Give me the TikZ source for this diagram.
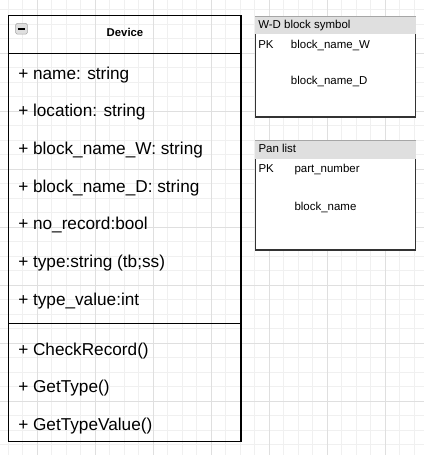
\documentclass[tikz,border=0pt]{standalone}
\usepackage{fontspec}
\setmainfont{Liberation Sans}

\begin{document}
\begin{tikzpicture}[x=0.75pt,y=-0.75pt,
    minorgrid/.style={draw=gray!12,line width=0.75pt},
    majorgrid/.style={draw=gray!25,line width=0.75pt},
    classbox/.style={draw=black,line width=1pt,inner sep=0pt,outer sep=0pt,anchor=north west,minimum width=174.4pt},
    tablehead/.style={fill=gray!25,inner sep=0pt,outer sep=0pt,anchor=north west,minimum width=120.2pt},
    tablebody/.style={fill=white,inner sep=0pt,outer sep=0pt,anchor=north west,minimum width=120.2pt},
    tableline/.style={draw=black!80,line width=1.1pt},
    headline/.style={draw=gray!70,line width=0.75pt},
    member/.style={anchor=base west,inner sep=0pt,font=\fontsize{12.9}{15}\selectfont},
    field/.style={anchor=base west,inner sep=0pt,font=\fontsize{8.6}{10}\selectfont}]

  \useasboundingbox (0,0) rectangle (424,455);

  % background grid
  \foreach \k in {0,...,28}
    \draw[minorgrid] ({8.3+14.5*\k},0) -- ({8.3+14.5*\k},455);
  \foreach \k in {0,...,30}
    \draw[minorgrid] (0,{9.8+14.5*\k}) -- (424,{9.8+14.5*\k});
  \foreach \k in {0,...,6}
    \draw[majorgrid] ({37.3+58*\k},0) -- ({37.3+58*\k},455);
  \foreach \k in {0,...,6}
    \draw[majorgrid] (0,{53.3+58*\k}) -- (424,{53.3+58*\k});

  % Device class
  \node[classbox,minimum height=28.2pt] (devhead) at (8.5,15.7) {};
  \node[classbox,minimum height=202.8pt] (devattrs) at (devhead.south west) {};
  \node[classbox,minimum height=88.5pt] (devops) at (devattrs.south west) {};

  \node[draw=gray!70,fill=gray!25,rounded corners=1pt,inner sep=0pt,
        minimum width=8.7pt,minimum height=8pt] (collapse) at (21.5,28.7) {};
  \draw[line width=1.4pt] ([xshift=-2.7pt]collapse.center) -- ([xshift=2.7pt]collapse.center);

  \node[anchor=base,inner sep=0pt,font=\bfseries\fontsize{8.5}{10}\selectfont] (devname) at (125,36) {Device};

  \begin{scope}[every node/.style={member}]
    \node (aname) at (18,79) {+ name: string};
    \node (alocation) at (18,116.7) {+ location: string};
    \node (ablockw) at (18,154.4) {+ block\_name\_W: string};
    \node (ablockd) at (18,192.1) {+ block\_name\_D: string};
    \node (anorecord) at (18,229.8) {+ no\_record:bool};
    \node (atype) at (18,267.5) {+ type:string (tb;ss)};
    \node (atypevalue) at (18,305.2) {+ type\_value:int};

    \node (mcheck) at (18,355) {+ CheckRecord()};
    \node (mtype) at (18,392.6) {+ GetType()};
    \node (mtypevalue) at (18,430.2) {+ GetTypeValue()};
  \end{scope}

  % W-D block symbol table
  \node[tablehead,minimum height=13.5pt] (wdhead) at (255.3,16) {};
  \node[tablebody,minimum height=62.25pt] (wdbody) at (wdhead.south west) {};
  \draw[headline] (wdhead.north west) -- (wdhead.north east);
  \draw[tableline] (wdbody.north west) -- (wdbody.south west) -- (wdbody.south east) -- (wdbody.north east);

  % Pan list table
  \node[tablehead,minimum height=14.5pt] (panhead) at (255.3,140) {};
  \node[tablebody,minimum height=68pt] (panbody) at (panhead.south west) {};
  \draw[headline] (panhead.north west) -- (panhead.north east);
  \draw[tableline] (panbody.north west) -- (panbody.south west) -- (panbody.south east) -- (panbody.north east);

  \begin{scope}[every node/.style={field}]
    \node (wdtitle) at (258,28.3) {W-D block symbol};
    \node (wdpk) at (258,48.3) {PK};
    \node (wdkey) at (290.7,48.3) {block\_name\_W};
    \node (wdattr) at (290.7,84) {block\_name\_D};

    \node (pantitle) at (258.3,152.7) {Pan list};
    \node (panpk) at (258.3,172.3) {PK};
    \node (pankey) at (294.3,172.3) {part\_number};
    \node (panattr) at (294.3,210) {block\_name};
  \end{scope}

\end{tikzpicture}
\end{document}
